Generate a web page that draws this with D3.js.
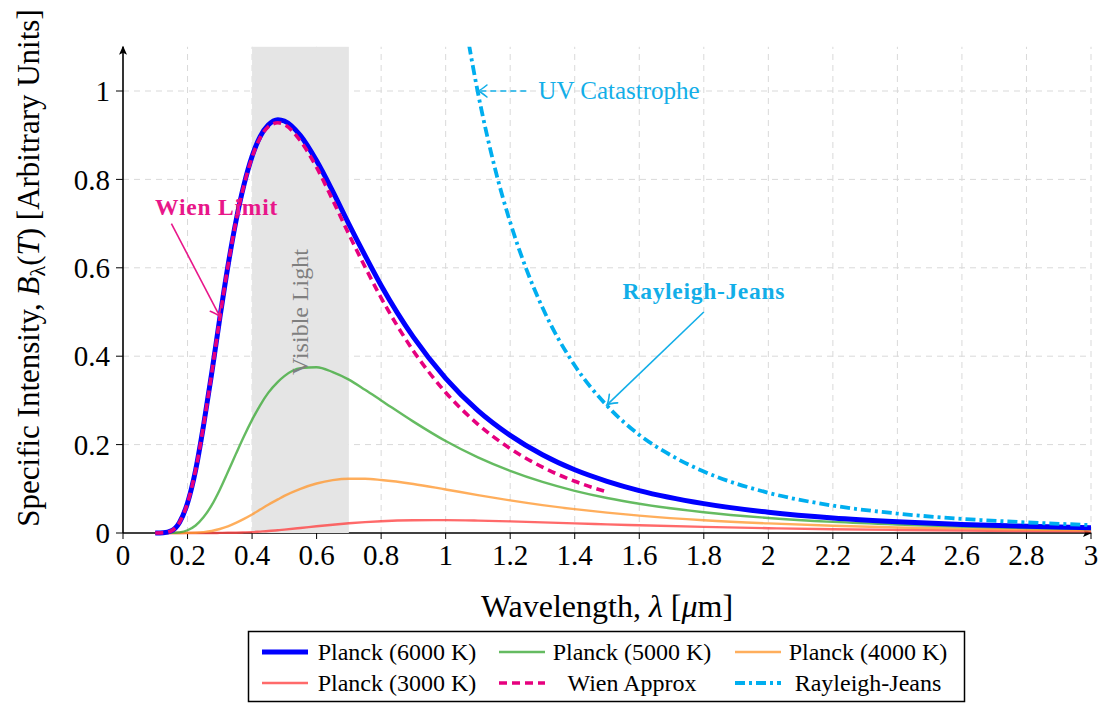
<!DOCTYPE html>
<html>
<head>
<meta charset="utf-8">
<title>Blackbody radiation</title>
<script src="https://cdn.jsdelivr.net/npm/d3@7"></script>
<style>
body { margin: 0; background: #fff; }
svg, svg text { font-family: "Liberation Serif", "Times New Roman", serif; }
</style>
</head>
<body>
<div id="chart"></div>
<script>
// wavelengths (um) the Planck curves were read at
var wl = [0.1, 0.125, 0.15, 0.175, 0.2, 0.225, 0.25, 0.275, 0.3, 0.325, 0.35, 0.375, 0.4, 0.425, 0.45, 0.48, 0.5,
          0.55, 0.6, 0.65, 0.7, 0.75, 0.8, 0.9, 1.0, 1.1, 1.2, 1.3, 1.4, 1.5, 1.6, 1.8, 2.0, 2.2, 2.4, 2.6, 2.8, 3.0];

var planck6000 = [0, 0.0005, 0.005, 0.024, 0.068, 0.142, 0.245, 0.362, 0.486, 0.603, 0.705, 0.788, 0.852, 0.897, 0.923, 0.935, 0.932,
                  0.899, 0.842, 0.773, 0.699, 0.628, 0.560, 0.443, 0.350, 0.277, 0.221, 0.177, 0.143, 0.117, 0.096, 0.0665, 0.047, 0.034, 0.0256, 0.0195, 0.015, 0.0118];
var planck5000 = [0, 0, 0.0002, 0.0015, 0.0062, 0.017, 0.036, 0.063, 0.098, 0.138, 0.179, 0.219, 0.256, 0.289, 0.317, 0.342, 0.355,
                  0.373, 0.375, 0.364, 0.347, 0.324, 0.300, 0.252, 0.208, 0.171, 0.1405, 0.1155, 0.0954, 0.0792, 0.0662, 0.0469, 0.034, 0.0251, 0.019, 0.0145, 0.0113, 0.0089];
var planck4000 = [0, 0, 0, 0, 0.0002, 0.0007, 0.002, 0.0046, 0.009, 0.015, 0.023, 0.032, 0.042, 0.053, 0.064, 0.076, 0.084,
                  0.100, 0.112, 0.1196, 0.1228, 0.1227, 0.120, 0.111, 0.0985, 0.0858, 0.0738, 0.0631, 0.0539, 0.046, 0.0394, 0.029, 0.0217, 0.0164, 0.0126, 0.0098, 0.0078, 0.0062];
var planck3000 = [0, 0, 0, 0, 0, 0, 0, 0, 0.0002, 0.0004, 0.0007, 0.0013, 0.002, 0.0032, 0.0044, 0.0063, 0.0076,
                  0.0113, 0.0152, 0.0188, 0.022, 0.0246, 0.0266, 0.0287, 0.0291, 0.0281, 0.0263, 0.0241, 0.0218, 0.0196, 0.0175, 0.0138, 0.0109, 0.0086, 0.0069, 0.0055, 0.0045, 0.0036];

var wienWl = [0.1, 0.125, 0.15, 0.175, 0.2, 0.225, 0.25, 0.275, 0.3, 0.325, 0.35, 0.375, 0.4, 0.425, 0.45, 0.48, 0.5,
              0.55, 0.6, 0.65, 0.7, 0.75, 0.8, 0.9, 1.0, 1.1, 1.2, 1.3, 1.4, 1.5];
var wien = [0, 0.0005, 0.005, 0.024, 0.068, 0.142, 0.245, 0.362, 0.486, 0.603, 0.705, 0.787, 0.850, 0.894, 0.919, 0.928, 0.924,
            0.887, 0.827, 0.753, 0.676, 0.602, 0.532, 0.412, 0.318, 0.246, 0.191, 0.149, 0.117, 0.093];

var rjWl = [1.05, 1.1, 1.15, 1.2, 1.25, 1.3, 1.4, 1.5, 1.6, 1.7, 1.8, 2.0, 2.2, 2.4, 2.6, 2.8, 3.0];
var rayleighJeans = [1.199, 0.996, 0.833, 0.703, 0.597, 0.510, 0.379, 0.288, 0.222, 0.175, 0.139, 0.091, 0.062, 0.044, 0.032, 0.024, 0.018];

var xTicks = d3.range(0, 16).map(function (i) { return +(i * 0.2).toFixed(1); });
var yTicks = [0, 0.2, 0.4, 0.6, 0.8, 1];
var visible = [0.4, 0.7];

var width = 1101, height = 704;
var x = d3.scaleLinear().domain([0, 3]).range([123, 1091]);
var y = d3.scaleLinear().domain([0, 1.1]).range([533, 46.8]);

var svg = d3.select("#chart").append("svg")
    .attr("width", width).attr("height", height);

var defs = svg.append("defs");
defs.append("clipPath").attr("id", "plotclip")
  .append("rect")
    .attr("x", x(0)).attr("y", y(1.1))
    .attr("width", x(3) - x(0)).attr("height", y(0) - y(1.1) + 3);

// axis arrow (filled) and annotation arrow (open "to" style)
defs.append("marker").attr("id", "axisArrow")
    .attr("viewBox", "-10 -5 12 10").attr("refX", 0).attr("refY", 0)
    .attr("markerWidth", 12).attr("markerHeight", 10).attr("markerUnits", "userSpaceOnUse")
    .attr("orient", "auto")
  .append("path").attr("d", "M1,0 L-8,-4 L-6,0 L-8,4 Z").attr("fill", "#000");

function openArrow(id, color) {
  defs.append("marker").attr("id", id)
      .attr("viewBox", "-12 -8 14 16").attr("refX", 0).attr("refY", 0)
      .attr("markerWidth", 14).attr("markerHeight", 16).attr("markerUnits", "userSpaceOnUse")
      .attr("orient", "auto")
    .append("path").attr("d", "M-9,-6 Q-3,-1 0,0 Q-3,1 -9,6")
      .attr("fill", "none").attr("stroke", color).attr("stroke-width", 1.6)
      .attr("stroke-linecap", "round");
}
var magenta = "#e8178a", cyan = "#12aee8";
openArrow("wienHead", magenta);
openArrow("rjHead", cyan);

// grid
var grid = svg.append("g");
grid.selectAll("line.gx").data(xTicks.slice(1)).enter().append("line")
    .attr("x1", function (d) { return x(d); }).attr("x2", function (d) { return x(d); })
    .attr("y1", y(0)).attr("y2", y(1.1));
grid.selectAll("line.gy").data(yTicks.slice(1)).enter().append("line")
    .attr("x1", x(0)).attr("x2", x(3))
    .attr("y1", function (d) { return y(d); }).attr("y2", function (d) { return y(d); });
grid.selectAll("line")
    .attr("stroke", "#d9d9d9").attr("stroke-width", 1).attr("stroke-dasharray", "6,5");

// ticks
var ticks = svg.append("g").attr("stroke", "#000").attr("stroke-width", 1);
ticks.selectAll("line.tx").data(xTicks).enter().append("line")
    .attr("x1", function (d) { return x(d); }).attr("x2", function (d) { return x(d); })
    .attr("y1", y(0)).attr("y2", y(0) + 6);
ticks.selectAll("line.ty").data(yTicks).enter().append("line")
    .attr("x1", x(0) - 7).attr("x2", x(0))
    .attr("y1", function (d) { return y(d); }).attr("y2", function (d) { return y(d); });

// axis lines
svg.append("line").attr("x1", x(0)).attr("x2", x(3)).attr("y1", y(0)).attr("y2", y(0))
    .attr("stroke", "#000").attr("stroke-width", 1.6).attr("marker-end", "url(#axisArrow)");
svg.append("line").attr("x1", x(0)).attr("x2", x(0)).attr("y1", y(0)).attr("y2", y(1.1))
    .attr("stroke", "#000").attr("stroke-width", 1.6).attr("marker-end", "url(#axisArrow)");

// visible band
svg.append("rect")
    .attr("x", x(visible[0])).attr("width", x(visible[1]) - x(visible[0]))
    .attr("y", y(1.1)).attr("height", y(0) - y(1.1))
    .attr("fill", "#e5e5e5");

// tick labels
svg.append("g").selectAll("text").data(xTicks).enter().append("text")
    .attr("x", function (d) { return x(d); }).attr("y", y(0) + 32)
    .attr("text-anchor", "middle").style("font-size", "29px")
    .text(function (d) { return d3.format("~g")(d); });
svg.append("g").selectAll("text").data(yTicks).enter().append("text")
    .attr("x", x(0) - 13).attr("y", function (d) { return y(d); }).attr("dy", "0.35em")
    .attr("text-anchor", "end").style("font-size", "29px")
    .text(function (d) { return d3.format("~g")(d); });

// axis titles
var xt = svg.append("text").attr("x", 607).attr("y", 617)
    .attr("text-anchor", "middle").style("font-size", "32px");
xt.append("tspan").text("Wavelength, ");
xt.append("tspan").style("font-style", "italic").text("λ");
xt.append("tspan").text(" [");
xt.append("tspan").style("font-style", "italic").text("μ");
xt.append("tspan").text("m]");

var yt = svg.append("text").attr("transform", "translate(39,268) rotate(-90)")
    .attr("text-anchor", "middle").style("font-size", "31px");
yt.append("tspan").text("Specific Intensity, ");
yt.append("tspan").style("font-style", "italic").text("B");
yt.append("tspan").attr("dy", 6).style("font-size", "22px").text("λ");
yt.append("tspan").attr("dy", -6).text("(");
yt.append("tspan").style("font-style", "italic").text("T");
yt.append("tspan").text(") [Arbitrary Units]");

// curves
var line = d3.line()
    .x(function (d) { return x(d[0]); })
    .y(function (d) { return y(d[1]); })
    .curve(d3.curveMonotoneX);

var series = [
  { name: "Planck (3000 K)", xs: wl, ys: planck3000, color: "#ff4545", width: 2.4, opacity: 0.8, dash: null },
  { name: "Planck (4000 K)", xs: wl, ys: planck4000, color: "#ff9a33", width: 2.4, opacity: 0.8, dash: null },
  { name: "Planck (5000 K)", xs: wl, ys: planck5000, color: "#3faa3a", width: 2.4, opacity: 0.8, dash: null },
  { name: "Planck (6000 K)", xs: wl, ys: planck6000, color: "#0000ff", width: 5, opacity: 1, dash: null },
  { name: "Wien Approx", xs: wienWl, ys: wien, color: "#e6007e", width: 3.6, opacity: 1, dash: "8,5" },
  { name: "Rayleigh-Jeans", xs: rjWl, ys: rayleighJeans, color: "#00aeef", width: 3.8, opacity: 1, dash: "10,4,3,4" }
];

var plot = svg.append("g").attr("clip-path", "url(#plotclip)");
series.forEach(function (s) {
  plot.append("path")
      .datum(s.xs.map(function (v, i) { return [v, s.ys[i]]; }))
      .attr("d", line)
      .attr("fill", "none")
      .attr("stroke", s.color)
      .attr("stroke-width", s.width)
      .attr("stroke-opacity", s.opacity)
      .attr("stroke-dasharray", s.dash);
});

// annotations
svg.append("text")
    .attr("transform", "translate(" + (x(0.55) + 8) + "," + y(0.5) + ") rotate(-90)")
    .attr("text-anchor", "middle").attr("fill", "#7f7f7f").style("font-size", "24px")
    .text("Visible Light");

svg.append("line")
    .attr("x1", x(0.15)).attr("y1", y(0.7)).attr("x2", x(0.3)).attr("y2", y(0.49))
    .attr("stroke", magenta).attr("stroke-width", 1.6).attr("marker-end", "url(#wienHead)");
svg.append("text").attr("x", x(0.29)).attr("y", y(0.738)).attr("dy", "0.35em")
    .attr("text-anchor", "middle").attr("fill", magenta)
    .style("font-size", "23.5px").style("font-weight", "bold").style("letter-spacing", "0.8px")
    .text("Wien Limit");

svg.append("line")
    .attr("x1", x(1.8)).attr("y1", y(0.5)).attr("x2", x(1.5)).attr("y2", y(0.29))
    .attr("stroke", cyan).attr("stroke-width", 1.6).attr("marker-end", "url(#rjHead)");
svg.append("text").attr("x", x(1.8)).attr("y", y(0.548)).attr("dy", "0.35em")
    .attr("text-anchor", "middle").attr("fill", cyan)
    .style("font-size", "23.5px").style("font-weight", "bold").style("letter-spacing", "0.7px")
    .text("Rayleigh-Jeans");

svg.append("line")
    .attr("x1", x(1.25)).attr("y1", y(1)).attr("x2", x(1.1)).attr("y2", y(1))
    .attr("stroke", cyan).attr("stroke-width", 1.6).attr("stroke-dasharray", "6,4")
    .attr("marker-end", "url(#rjHead)");
svg.append("text").attr("x", x(1.25) + 12).attr("y", y(1)).attr("dy", "0.33em")
    .attr("fill", cyan).style("font-size", "25px")
    .text("UV Catastrophe");

// legend
var legend = svg.append("g");
legend.append("rect").attr("x", 248.5).attr("y", 631.5).attr("width", 716).attr("height", 70)
    .attr("fill", "#fff").attr("stroke", "#000").attr("stroke-width", 1.5);
var legendOrder = ["Planck (6000 K)", "Planck (5000 K)", "Planck (4000 K)",
                   "Planck (3000 K)", "Wien Approx", "Rayleigh-Jeans"];
var colSample = [262, 499, 735], colText = [397, 632, 868], rowY = [652, 683];
legendOrder.forEach(function (name, i) {
  var s = series.filter(function (d) { return d.name === name; })[0];
  var c = i % 3, r = Math.floor(i / 3);
  legend.append("line")
      .attr("x1", colSample[c]).attr("x2", colSample[c] + 46)
      .attr("y1", rowY[r]).attr("y2", rowY[r])
      .attr("stroke", s.color).attr("stroke-width", s.width)
      .attr("stroke-opacity", s.opacity).attr("stroke-dasharray", s.dash);
  legend.append("text").attr("x", colText[c]).attr("y", rowY[r]).attr("dy", "0.33em")
      .attr("text-anchor", "middle").style("font-size", "24px").text(name);
});
</script>
</body>
</html>
